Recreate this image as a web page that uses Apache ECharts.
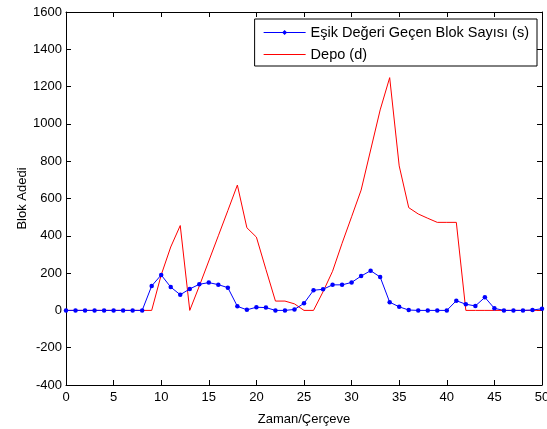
<!DOCTYPE html>
<html>
<head>
<meta charset="utf-8">
<script src="https://cdn.jsdelivr.net/npm/echarts@6/dist/echarts.min.js"></script>
<style>
  html, body { margin: 0; padding: 0; background: #fff; }
  #chart { width: 547px; height: 429px; }
</style>
</head>
<body>
<div id="chart"></div>
<script>
// frame index 0..50
const frames = Array.from({ length: 51 }, (_, i) => i)

// Eşik Değeri Geçen Blok Sayısı (s)
const blokSayisi = [
  0, 0, 0, 0, 0, 0, 0, 0, 0, 131,
  190, 125, 84, 115, 140, 149, 138, 122, 22, 3,
  17, 15, 0, 0, 5, 38, 108, 113, 137, 137,
  150, 184, 213, 179, 44, 19, 2, 0, 0, 0,
  0, 52, 33, 24, 70, 11, 0, 0, 0, 2,
  9
]

// Depo (d)
const depo = [
  0, 0, 0, 0, 0, 0, 0, 0, 0, 0,
  190, 340, 455, 0, 130, 265, 400, 535, 672, 443,
  393, 220, 50, 50, 35, 0, 0, 100, 210, 360,
  502, 645, 860, 1075, 1248, 775, 551, 517, 494, 472,
  472, 472, 0, 0, 0, 0, 0, 0, 0, 0,
  0
]

const xTicks = { min: 0, max: 50, interval: 5 }
const yTicks = { min: -400, max: 1600, interval: 200 }

const font = 'Liberation Sans, Arial, sans-serif'
const chart = echarts.init(document.getElementById('chart'))

// legend icons: 42x14 box, thin line through the middle (+ dot for the marked series)
const box = 'M0,0L0,0Z M42,14L42,14Z '
const lineIcon = 'path://' + box + 'M0,6.5H42V7.5H0Z'
const dotIcon = lineIcon + ' M21,4.5L23.5,7L21,9.5L18.5,7Z'

const frameAxis = (pos, labels) => ({
  type: 'value', position: pos, ...xTicks,
  axisLine: { show: true, onZero: false, lineStyle: { color: '#000', width: 1 } },
  axisTick: { show: true, inside: true, length: 5, lineStyle: { color: '#000' } },
  axisLabel: { show: labels, color: '#000', fontSize: 13, fontFamily: font, margin: 6 },
  splitLine: { show: false },
  name: labels ? 'Zaman/Çerçeve' : '',
  nameLocation: 'middle', nameGap: 28,
  nameTextStyle: { color: '#000', fontSize: 13, fontFamily: font }
})

const countAxis = (pos, labels) => ({
  type: 'value', position: pos, ...yTicks,
  axisLine: { show: true, onZero: false, lineStyle: { color: '#000', width: 1 } },
  axisTick: { show: true, inside: true, length: 5, lineStyle: { color: '#000' } },
  axisLabel: { show: labels, color: '#000', fontSize: 13, fontFamily: font, margin: 4, formatter: v => String(v) },
  splitLine: { show: false },
  name: labels ? 'Blok Adedi' : '',
  nameLocation: 'middle', nameGap: 37, nameMoveOverlap: false,
  nameTextStyle: { color: '#000', fontSize: 13, fontFamily: font }
})

chart.setOption({
  animation: false,
  backgroundColor: '#fff',
  grid: { left: 66, right: 5, top: 12, bottom: 44, containLabel: false, outerBoundsMode: 'none' },
  legend: {
    orient: 'vertical', right: 10, top: 19,
    backgroundColor: '#fff', borderColor: '#000', borderWidth: 1,
    padding: [6, 8, 4, 9], itemWidth: 42, itemHeight: 14, itemGap: 7,
    textStyle: { color: '#000', fontSize: 14.5, fontFamily: font },
    data: [
      { name: 'Eşik Değeri Geçen Blok Sayısı (s)', icon: dotIcon },
      { name: 'Depo (d)', icon: lineIcon }
    ]
  },
  xAxis: [frameAxis('bottom', true), frameAxis('top', false)],
  yAxis: [countAxis('left', true), countAxis('right', false)],
  series: [
    {
      name: 'Eşik Değeri Geçen Blok Sayısı (s)',
      type: 'line',
      data: frames.map(i => [i, blokSayisi[i]]),
      symbol: 'circle', symbolSize: 4.5, showSymbol: true,
      itemStyle: { color: '#0000ff' },
      lineStyle: { color: '#0000ff', width: 1 },
      z: 3
    },
    {
      name: 'Depo (d)',
      type: 'line',
      data: frames.map(i => [i, depo[i]]),
      symbol: 'none', showSymbol: false,
      itemStyle: { color: '#ff0000' },
      lineStyle: { color: '#ff0000', width: 1 },
      z: 2
    }
  ]
})
</script>
</body>
</html>
